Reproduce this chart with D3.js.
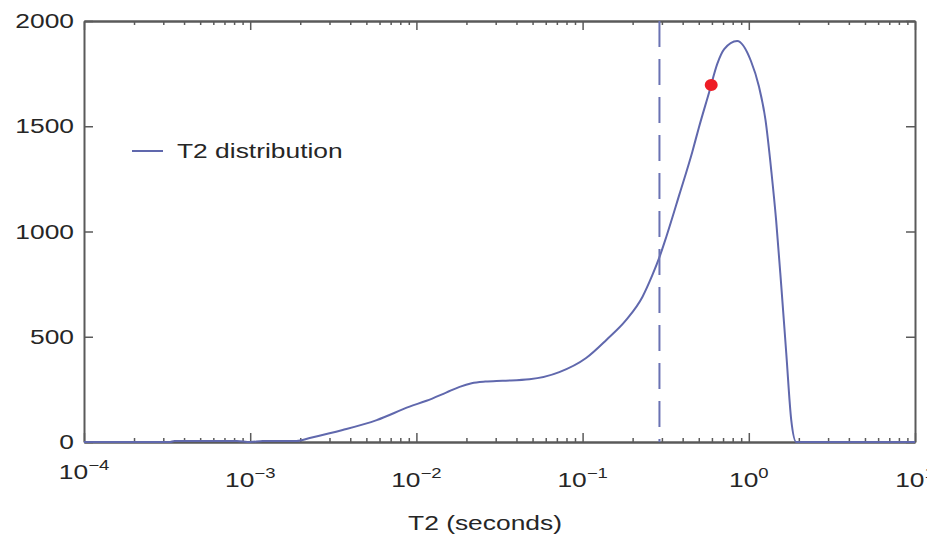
<!DOCTYPE html>
<html>
<head>
<meta charset="utf-8">
<script src="https://cdn.jsdelivr.net/npm/d3@7"></script>
<style>
  html, body { margin: 0; padding: 0; background: #fff; }
  svg { display: block; }
  text { font-family: "Liberation Sans", Arial, Helvetica, sans-serif; fill: #262626; }
</style>
</head>
<body>
<svg id="chart" width="927" height="539"></svg>
<script>
// ---- data ----
const t2Seconds = [1e-4, 3.3e-4, 3.5e-4, 8.3e-4, 1e-3, 1.19e-3, 1.9e-3, 2.28e-3, 3.6e-3, 5.77e-3,
  9.1e-3, 0.0115, 0.0152, 0.0182, 0.0215, 0.026, 0.033, 0.0479, 0.0724, 0.105, 0.139,
  0.183, 0.229, 0.262, 0.29, 0.319, 0.382, 0.457, 0.5, 0.578, 0.646,
  0.711, 0.851, 1.03, 1.15, 1.26, 1.37, 1.46, 1.57, 1.68, 1.8, 1.93, 10];
const amplitude = [0, 0, 5, 5, 0, 5, 5, 19, 57, 104,
  168, 196, 236, 262, 279, 287, 291, 298, 332, 399, 485,
  580, 689, 790, 878, 975, 1175, 1378, 1492, 1663, 1796,
  1866, 1905, 1810, 1690, 1530, 1278, 1054, 736, 423, 105, 0, 0];
const cutoffT2 = 0.29;
const markerPoint = [0.594, 1696];
const xMajorTicks = [1e-4, 1e-3, 1e-2, 1e-1, 1, 10];
const xTickExponents = ["−4", "−3", "−2", "−1", "0", "1"];
const yTicks = [0, 500, 1000, 1500, 2000];
const seriesName = "T2 distribution";
const xAxisTitle = "T2 (seconds)";

// ---- layout ----
const L = 84, R = 915, T = 21, B = 442;
const svg = d3.select("#chart");
const x = d3.scaleLog().domain([1e-4, 10]).range([L, R]);
const y = d3.scaleLinear().domain([0, 2000]).range([B, T]);
const curveColor = "#6068ad";
const axisColor = "#5a5a5a";
const sx = 1.32; // horizontal stretch of the reference text

// minor ticks
const minorTicks = [];
for (let e = -4; e < 1; e++) for (let m = 2; m <= 9; m++) minorTicks.push(m * Math.pow(10, e));

// ---- curve ----
const data = t2Seconds.map((t, i) => [t, amplitude[i]]);
const line = d3.line().x(d => x(d[0])).y(d => y(d[1])).curve(d3.curveMonotoneX);

// ---- axes (box with inward ticks) ----
function styleAxis(g) {
  g.selectAll("path").attr("stroke", axisColor).attr("stroke-width", 2);
  g.selectAll("line").attr("stroke", axisColor).attr("stroke-width", 1.5);
  g.selectAll("text").remove();
}
svg.append("g").attr("transform", `translate(0,${B})`)
  .call(d3.axisBottom(x).tickValues(xMajorTicks).tickSizeInner(-9).tickSizeOuter(0)).call(styleAxis);
svg.append("g").attr("transform", `translate(0,${B})`)
  .call(d3.axisBottom(x).tickValues(minorTicks).tickSizeInner(-4).tickSizeOuter(0)).call(styleAxis);
svg.append("g").attr("transform", `translate(0,${T})`)
  .call(d3.axisTop(x).tickValues(xMajorTicks).tickSizeInner(-9).tickSizeOuter(0)).call(styleAxis);
svg.append("g").attr("transform", `translate(0,${T})`)
  .call(d3.axisTop(x).tickValues(minorTicks).tickSizeInner(-4).tickSizeOuter(0)).call(styleAxis);
svg.append("g").attr("transform", `translate(${L},0)`)
  .call(d3.axisLeft(y).tickValues(yTicks).tickSizeInner(-9).tickSizeOuter(0)).call(styleAxis);
svg.append("g").attr("transform", `translate(${R},0)`)
  .call(d3.axisRight(y).tickValues(yTicks).tickSizeInner(-9).tickSizeOuter(0)).call(styleAxis);

svg.append("path").datum(data).attr("d", line)
  .attr("fill", "none").attr("stroke", curveColor).attr("stroke-width", 2);

// ---- dashed cutoff ----
svg.append("line")
  .attr("x1", x(cutoffT2)).attr("x2", x(cutoffT2))
  .attr("y1", y(2000)).attr("y2", y(0))
  .attr("stroke", "#6a72b3").attr("stroke-width", 2)
  .attr("stroke-dasharray", "26,12");

// ---- marker ----
svg.append("ellipse")
  .attr("cx", x(markerPoint[0])).attr("cy", y(markerPoint[1]))
  .attr("rx", 6.5).attr("ry", 6).attr("fill", "#ee1c25");

// ---- y tick labels ----
yTicks.forEach(v => {
  svg.append("text")
    .attr("transform", `translate(74,${y(v)}) scale(${sx},1)`)
    .attr("text-anchor", "end").attr("dy", "0.36em")
    .attr("font-size", 20).text(v);
});

// ---- x tick labels ----
xMajorTicks.forEach((v, i) => {
  const yy = i === 0 ? 479 : 487;
  const t = svg.append("text")
    .attr("transform", `translate(${x(v)},${yy}) scale(${sx},1)`)
    .attr("text-anchor", "middle").attr("font-size", 20);
  t.append("tspan").text("10");
  t.append("tspan").attr("dy", -9).attr("font-size", 14).text(xTickExponents[i]);
});

// ---- x axis title ----
svg.append("text")
  .attr("transform", `translate(485,530) scale(${sx},1)`)
  .attr("text-anchor", "middle").attr("font-size", 20).text(xAxisTitle);

// ---- legend ----
svg.append("line").attr("x1", 132).attr("x2", 163).attr("y1", 151).attr("y2", 151)
  .attr("stroke", curveColor).attr("stroke-width", 2);
svg.append("text")
  .attr("transform", `translate(177,158) scale(${sx},1)`)
  .attr("font-size", 20).text(seriesName);
</script>
</body>
</html>
